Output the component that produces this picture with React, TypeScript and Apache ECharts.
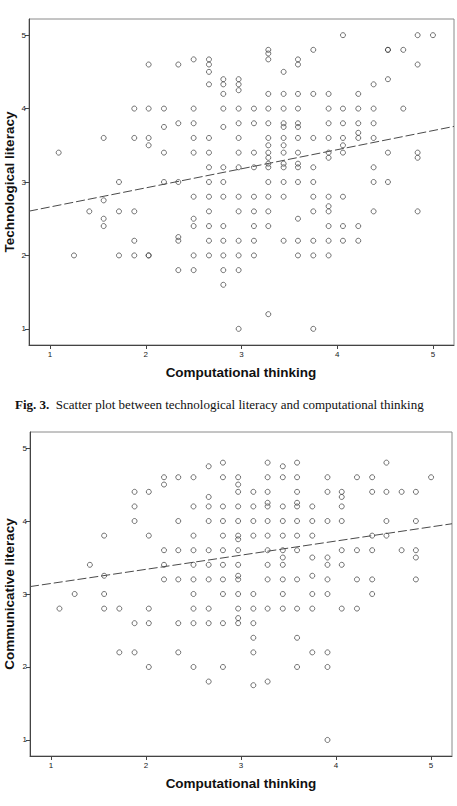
import React, { useEffect, useRef } from "react";
import * as echarts from "echarts";

// Computational-thinking score levels (x positions shared by both plots)
const ctLevels = [
  1.09, 1.25, 1.41, 1.56, 1.72, 1.88, 2.03, 2.19, 2.34, 2.5, 2.66, 2.81, 2.97,
  3.13, 3.28, 3.44, 3.59, 3.75, 3.91, 4.06, 4.22, 4.38, 4.53, 4.69, 4.84, 5.0,
];

// Technological literacy scores, grouped by computational-thinking level
const techByLevel = [
  [3.4],
  [2.0],
  [2.6],
  [3.6, 2.75, 2.5, 2.4],
  [3.0, 2.6, 2.0],
  [4.0, 3.6, 2.6, 2.2, 2.0],
  [4.6, 4.0, 3.6, 3.5, 2.0, 2.0],
  [4.0, 3.75, 3.4, 3.0],
  [4.6, 3.8, 3.0, 2.25, 2.2, 1.8],
  [4.67, 4.0, 3.8, 3.6, 3.4, 2.8, 2.5, 2.4, 2.0, 1.8],
  [4.67, 4.6, 4.5, 4.33, 3.6, 3.4, 3.2, 3.0, 2.8, 2.6, 2.4, 2.2, 2.0],
  [4.4, 4.33, 4.2, 4.0, 3.75, 3.2, 3.0, 2.8, 2.4, 2.2, 2.0, 1.8, 1.6],
  [4.4, 4.33, 4.25, 4.0, 3.8, 3.6, 3.4, 3.2, 2.8, 2.6, 2.2, 2.0, 1.8, 1.0],
  [4.0, 3.8, 3.4, 3.2, 2.8, 2.6, 2.4, 2.2, 2.0],
  [4.8, 4.75, 4.67, 4.2, 4.0, 3.8, 3.6, 3.5, 3.4, 3.33, 3.25, 3.2, 3.0, 2.8, 2.6, 2.4, 1.2],
  [4.5, 4.2, 4.0, 3.8, 3.75, 3.6, 3.5, 3.4, 3.25, 3.2, 3.0, 2.8, 2.2],
  [4.67, 4.6, 4.2, 4.0, 3.8, 3.75, 3.6, 3.4, 3.25, 3.2, 3.0, 2.5, 2.2, 2.0],
  [4.8, 4.2, 3.6, 3.2, 3.0, 2.8, 2.6, 2.2, 2.0, 1.0],
  [4.2, 4.0, 3.8, 3.6, 3.4, 3.33, 2.8, 2.67, 2.6, 2.4, 2.2, 2.0],
  [5.0, 4.0, 3.8, 3.6, 3.5, 3.4, 2.8, 2.4, 2.2],
  [4.2, 4.0, 3.8, 3.67, 3.6, 2.4, 2.2],
  [4.33, 4.0, 3.8, 3.6, 3.2, 3.0, 2.6],
  [4.8, 4.8, 4.4, 3.4, 3.0],
  [4.8, 4.0],
  [5.0, 4.6, 3.4, 3.33, 2.6],
  [5.0],
];

// Communicative literacy scores, grouped by computational-thinking level
const commByLevel = [
  [2.8],
  [3.0],
  [3.4],
  [3.8, 3.25, 3.0, 2.8],
  [2.8, 2.2],
  [4.4, 4.2, 4.0, 2.6, 2.2],
  [4.4, 3.8, 2.8, 2.6, 2.0],
  [4.6, 4.5, 3.6, 3.4, 3.2],
  [4.6, 4.0, 3.6, 3.2, 2.6, 2.2],
  [4.6, 4.2, 3.8, 3.6, 3.4, 3.2, 3.0, 2.8, 2.6, 2.0],
  [4.75, 4.33, 4.2, 4.0, 3.6, 3.4, 3.2, 2.8, 2.6, 1.8],
  [4.8, 4.6, 4.2, 4.0, 3.8, 3.6, 3.4, 3.2, 3.0, 2.6, 2.0],
  [4.6, 4.5, 4.4, 4.2, 4.0, 3.8, 3.75, 3.6, 3.4, 3.25, 3.2, 3.0, 2.8, 2.67, 2.6],
  [4.4, 4.2, 4.0, 3.8, 3.0, 2.8, 2.6, 2.4, 2.2, 1.75],
  [4.8, 4.6, 4.4, 4.25, 4.2, 4.0, 3.8, 3.6, 3.4, 3.2, 2.8, 1.8],
  [4.75, 4.6, 4.2, 4.0, 3.8, 3.6, 3.5, 3.4, 3.2, 3.0, 2.8],
  [4.8, 4.6, 4.4, 4.25, 4.2, 4.0, 3.8, 3.6, 3.2, 2.8, 2.4, 2.0],
  [4.2, 4.0, 3.8, 3.5, 3.25, 3.0, 2.8, 2.2],
  [4.6, 4.4, 4.0, 3.5, 3.4, 3.2, 3.0, 2.2, 2.0, 1.0],
  [4.4, 4.33, 4.2, 4.0, 3.6, 3.4, 2.8],
  [4.6, 3.6, 3.2, 2.8],
  [4.6, 4.4, 3.8, 3.6, 3.2, 3.0],
  [4.8, 4.4, 4.0, 3.8],
  [4.4, 3.6],
  [4.4, 4.0, 3.6, 3.5, 3.2],
  [4.6],
];

// Linear fit lines: [intercept, slope]
const techFit = [2.4, 0.26];
const commFit = [2.95, 0.194];

const tickValues = [1, 2, 3, 4, 5];
const AXIS_MIN = 0.78;
const AXIS_MAX = 5.22;

const xTitle = "Computational thinking";
const yTitleTop = "Technological literacy";
const yTitleBottom = "Communicative literacy";
const caption = "Scatter plot between technological literacy and computational thinking";

function points(levels: number[], groups: number[][]) {
  const out: number[][] = [];
  levels.forEach((x, i) => groups[i].forEach((y) => out.push([x, y])));
  return out;
}

function fitEnds(fit: number[]) {
  return [AXIS_MIN, AXIS_MAX].map((x) => [x, fit[0] + fit[1] * x]);
}

const sansFont = "Liberation Sans";

function makeAxis(gridIndex: number, type: "x" | "y") {
  return {
    type: "value",
    gridIndex,
    min: AXIS_MIN,
    max: AXIS_MAX,
    splitLine: { show: false },
    axisLine: { show: true, onZero: false, lineStyle: { color: "#444", width: 1 } },
    axisTick: {
      show: true,
      length: 4,
      customValues: tickValues,
      lineStyle: { color: "#444", width: 1 },
    },
    axisLabel: {
      show: true,
      customValues: tickValues,
      fontSize: 8,
      fontFamily: sansFont,
      color: "#222",
      margin: type === "x" ? 5 : 3,
    },
  };
}

export default function App() {
  const ref = useRef<HTMLDivElement>(null);

  useEffect(() => {
    if (!ref.current) return;
    const chart = echarts.init(ref.current, undefined, { renderer: "svg" });

    const scatterStyle = {
      symbol: "circle",
      symbolSize: 5,
      itemStyle: { color: "rgba(255,255,255,0)", borderColor: "#3a3a3a", borderWidth: 0.9 },
      emphasis: { disabled: true },
    };
    const fitStyle = {
      showSymbol: false,
      symbol: "none",
      lineStyle: { color: "#4a4a4a", width: 1, type: [9, 3] },
      emphasis: { disabled: true },
    };

    const titleStyle = {
      fontFamily: sansFont,
      fontWeight: "bold",
      fontSize: 13.5,
      fill: "#111",
      align: "center",
      verticalAlign: "middle",
    };

    chart.setOption({
      animation: false,
      backgroundColor: "#fff",
      grid: [
        { left: 29, top: 19, right: 3, bottom: 461, show: true, borderColor: "#8a8a8a", borderWidth: 1 },
        { left: 30, top: 432, right: 5, bottom: 50, show: true, borderColor: "#8a8a8a", borderWidth: 1 },
      ],
      xAxis: [makeAxis(0, "x"), makeAxis(1, "x")],
      yAxis: [makeAxis(0, "y"), makeAxis(1, "y")],
      series: [
        { type: "scatter", xAxisIndex: 0, yAxisIndex: 0, data: points(ctLevels, techByLevel), ...scatterStyle },
        { type: "line", xAxisIndex: 0, yAxisIndex: 0, data: fitEnds(techFit), ...fitStyle },
        { type: "scatter", xAxisIndex: 1, yAxisIndex: 1, data: points(ctLevels, commByLevel), ...scatterStyle },
        { type: "line", xAxisIndex: 1, yAxisIndex: 1, data: fitEnds(commFit), ...fitStyle },
      ],
      graphic: [
        { type: "text", x: 241, y: 372, style: { text: xTitle, ...titleStyle } },
        { type: "text", x: 9.5, y: 182, rotation: Math.PI / 2, style: { text: yTitleTop, ...titleStyle } },
        {
          type: "text",
          x: 15,
          y: 404,
          style: {
            text: "{b|Fig. 3.}  " + caption,
            fontFamily: "Liberation Serif",
            fontSize: 13,
            fill: "#111",
            align: "left",
            verticalAlign: "middle",
            rich: { b: { fontWeight: "bold", fontFamily: "Liberation Serif", fontSize: 13 } },
          },
        },
        { type: "text", x: 241, y: 783, style: { text: xTitle, ...titleStyle } },
        { type: "text", x: 9.5, y: 594, rotation: Math.PI / 2, style: { text: yTitleBottom, ...titleStyle } },
      ],
    });

    return () => chart.dispose();
  }, []);

  return (
    <div
      ref={ref}
      style={{ position: "fixed", left: 0, top: 0, width: 457, height: 806, background: "#fff" }}
    />
  );
}
